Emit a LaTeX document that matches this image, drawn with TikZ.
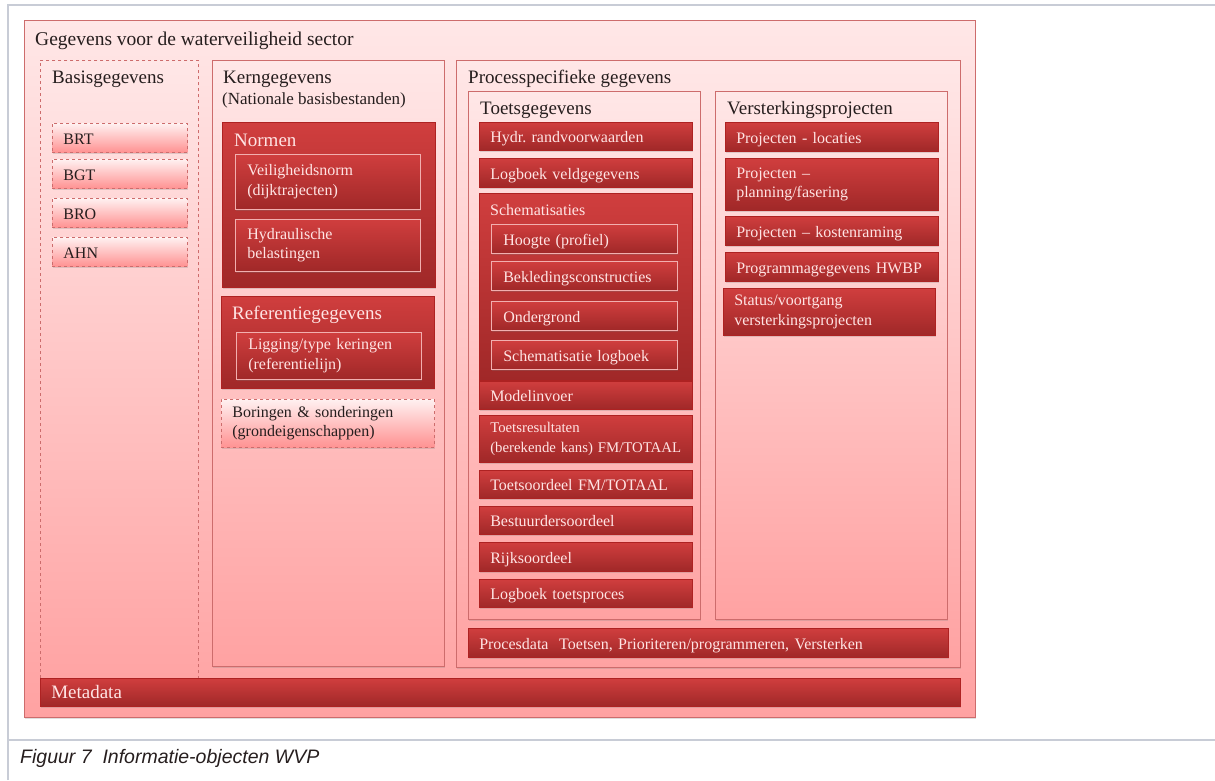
\documentclass[tikz,border=0pt]{standalone}
\usepackage{fontspec}
\setmainfont{Liberation Serif}
\newfontfamily\capfont{Liberation Sans}
\usetikzlibrary{shadows}
\definecolor{pinktop}{RGB}{255,231,231}
\definecolor{pinkbot}{RGB}{255,162,162}
\definecolor{redtop}{RGB}{208,62,62}
\definecolor{redbot}{RGB}{160,40,40}
\definecolor{paneledge}{RGB}{205,108,108}
\definecolor{paletext}{RGB}{255,228,228}
\definecolor{subedge}{RGB}{242,175,175}
\definecolor{darktext}{RGB}{38,30,30}
\definecolor{rulegray}{RGB}{200,204,214}
\tikzset{
  boxshadow/.style={drop shadow={shadow xshift=1pt,shadow yshift=-1.5pt,opacity=0.25}},
  panel/.style={anchor=north west,inner sep=0pt,draw=paneledge,line width=0.8pt,
    top color=pinktop,bottom color=pinkbot,boxshadow},
  dashpanel/.style={panel,dashed,top color=pinktop!60!white,bottom color=pinkbot!90!red,
    text=darktext,align=left,inner xsep=11pt,font=\fontsize{16}{19.5}\selectfont,
    text height=13pt,text depth=0pt},
  item/.style={anchor=north west,inner ysep=0pt,inner xsep=11pt,draw=redbot!85!red,line width=0.5pt,
    top color=redtop,bottom color=redbot,text=paletext,align=left,text width=#1,
    font=\fontsize{16}{19.5}\selectfont,text height=13pt,text depth=0pt,boxshadow},
  item/.default=191pt,
  subitem/.style={item=#1,draw=subedge,inner xsep=12pt},
  subitem/.default=162pt,
  twoline/.style={text height=11pt,text depth=23pt},
  title/.style={anchor=base west,inner sep=0pt,text=darktext,font=\fontsize{19}{22}\selectfont},
  darktitle/.style={title,text=paletext}
}
\begin{document}
\begin{tikzpicture}[x=1pt,y=-1pt]
\useasboundingbox (0,0) rectangle (1215,780);
\draw[rulegray,line width=2pt] (8,780)--(8,5)--(1215,5);
\draw[rulegray,line width=2pt] (8,740)--(1215,740);

\node[panel,minimum width=951pt,minimum height=697pt] (sector) at (24,20) {};
\node[title,font=\fontsize{19.5}{22}\selectfont] (sectortitle) at (35,45) {Gegevens voor de waterveiligheid sector};

\node[panel,dashed,minimum width=158pt,minimum height=635pt] (basis) at (40,60) {};
\node[title] (basistitle) at (52,83) {Basisgegevens};
\node[dashpanel,text width=113pt,minimum height=29pt] (brt) at (52,123) {BRT};
\node[dashpanel,text width=113pt,minimum height=29pt] (bgt) at (52,159) {BGT};
\node[dashpanel,text width=113pt,minimum height=29pt] (bro) at (52,198) {BRO};
\node[dashpanel,text width=113pt,minimum height=29pt] (ahn) at (52,237) {AHN};

\node[panel,minimum width=232pt,minimum height=606pt] (kern) at (212,60) {};
\node[title] (kerntitle) at (223,83) {Kerngegevens};
\node[title,font=\fontsize{17}{20}\selectfont] (kernsub) at (222,104) {(Nationale basisbestanden)};
\node[item=191pt,minimum height=165pt] (normen) at (222,122) {};
\node[darktitle] (normentitle) at (234,146) {Normen};
\node[subitem=161pt,twoline,minimum height=55pt] (veilig) at (235,154) {Veiligheidsnorm\\(dijktrajecten)};
\node[subitem=161pt,twoline,minimum height=52pt] (hydraul) at (235,219) {Hydraulische\\belastingen};
\node[item=191pt,minimum height=92pt] (referentie) at (221,296) {};
\node[darktitle] (referentietitle) at (232,319) {Referentiegegevens};
\node[subitem=161pt,twoline,minimum height=47pt] (ligging) at (236,332) {Ligging/type keringen\\(referentielijn)};
\node[dashpanel,twoline,text width=191pt,minimum height=48pt] (boringen) at (221,399) {Boringen \& sonderingen\\(grondeigenschappen)};

\node[panel,minimum width=504pt,minimum height=607pt] (proces) at (456,60) {};
\node[title] (procestitle) at (468,83) {Processpecifieke gegevens};

\node[panel,minimum width=232pt,minimum height=528pt] (toets) at (468,91) {};
\node[title] (toetstitle) at (480,114) {Toetsgegevens};
\node[item,minimum height=28pt] (hydr) at (479,122) {Hydr.\ randvoorwaarden};
\node[item,minimum height=29pt] (veld) at (479,158) {Logboek veldgegevens};
\node[item,minimum height=187pt] (schema) at (479,193) {};
\node[darktitle,font=\fontsize{16}{19.5}\selectfont] (schematitle) at (490,215) {Schematisaties};
\node[subitem,minimum height=29pt] (hoogte) at (491,224) {Hoogte (profiel)};
\node[subitem,minimum height=29pt] (bekleding) at (491,261) {Bekledingsconstructies};
\node[subitem,minimum height=29pt] (ondergrond) at (491,301) {Ondergrond};
\node[subitem,minimum height=29pt] (schemalog) at (491,340) {Schematisatie logboek};
\node[item,minimum height=28pt] (model) at (479,381) {Modelinvoer};
\node[item,twoline,minimum height=47pt,font=\fontsize{14.8}{19.5}\selectfont] (resultaten) at (479,415) {Toetsresultaten\\(berekende kans) FM/TOTAAL};
\node[item,minimum height=28pt] (oordeel) at (479,470) {Toetsoordeel FM/TOTAAL};
\node[item,minimum height=28pt] (bestuur) at (479,506) {Bestuurdersoordeel};
\node[item,minimum height=29pt] (rijk) at (479,542) {Rijksoordeel};
\node[item,minimum height=28pt] (toetslog) at (479,579) {Logboek toetsproces};

\node[panel,minimum width=232pt,minimum height=528pt] (versterk) at (715,91) {};
\node[title] (versterktitle) at (727,114) {Versterkingsprojecten};
\node[item,minimum height=29pt] (locaties) at (725,122) {Projecten - locaties};
\node[item,twoline,minimum height=52pt] (planning) at (725,158) {Projecten --\\planning/fasering};
\node[item,minimum height=29pt] (kosten) at (725,216) {Projecten -- kostenraming};
\node[item,minimum height=29pt] (hwbp) at (725,252) {Programmagegevens HWBP};
\node[item=190pt,twoline,minimum height=47pt] (voortgang) at (723,288) {Status/voortgang\\versterkingsprojecten};

\node[item=458pt,minimum height=29pt] (procesdata) at (468,628) {Procesdata~ Toetsen, Prioriteren/programmeren, Versterken};
\node[item=898pt,minimum height=28pt,font=\fontsize{19}{22}\selectfont] (metadata) at (40,678) {Metadata};

\node[anchor=base west,inner sep=0pt,text=darktext,font=\capfont\fontsize{19.5}{22}\selectfont\itshape] (caption) at (20,763) {Figuur 7\ \ Informatie-objecten WVP};
\end{tikzpicture}
\end{document}
